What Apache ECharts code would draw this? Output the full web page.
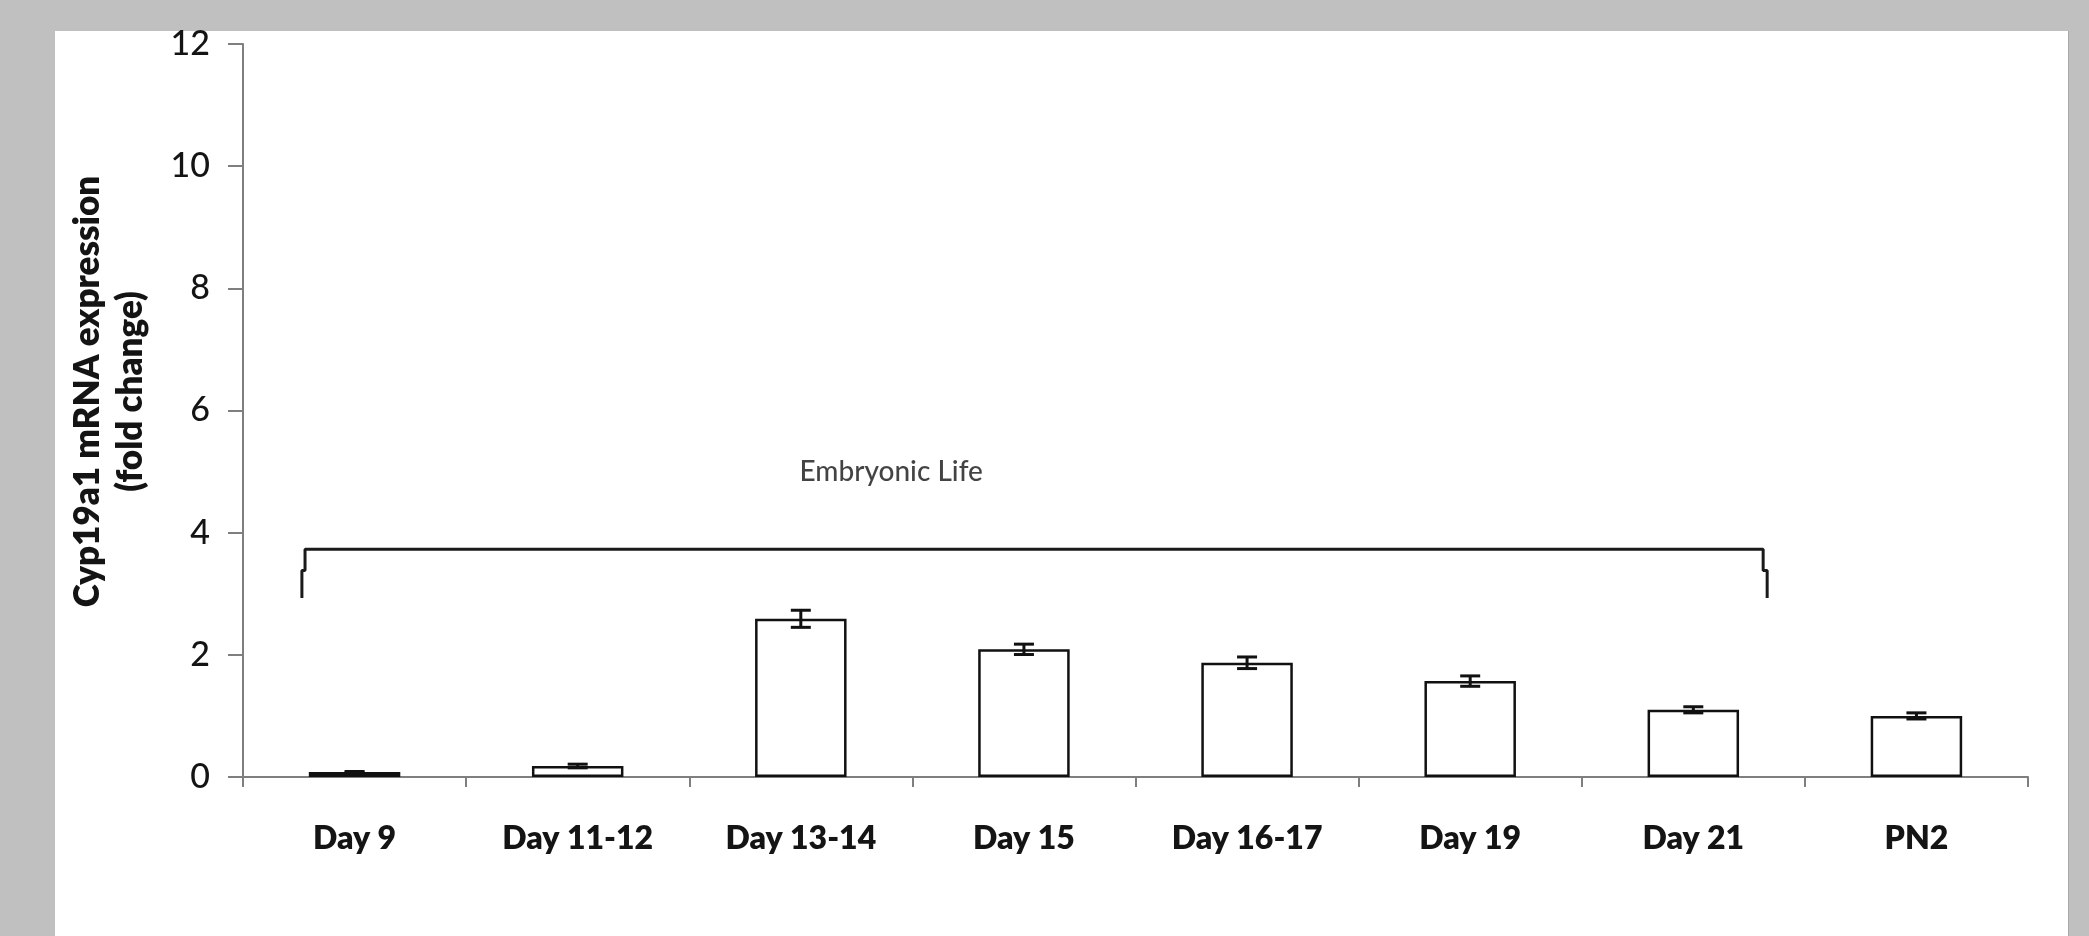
<!DOCTYPE html>
<html>
<head>
<meta charset="utf-8">
<script src="https://cdn.jsdelivr.net/npm/echarts@6/dist/echarts.min.js"></script>
<style>
  html, body { margin: 0; padding: 0; background: #c0c0c0; width: 2089px; height: 936px; overflow: hidden; }
  #panel { position: absolute; left: 55px; top: 31px; width: 2013px; height: 905px; background: #ffffff; border-right: 1px solid #a8a8a8; }
  #chart { position: absolute; left: 0; top: 0; width: 2089px; height: 936px; }
</style>
</head>
<body>
<div id="panel"></div>
<div id="chart"></div>
<script>
// Developmental stages on the x axis
const categories = ['Day 9', 'Day 11-12', 'Day 13-14', 'Day 15', 'Day 16-17', 'Day 19', 'Day 21', 'PN2'];
// Mean Cyp19a1 fold change and its error (±)
const foldChange = [0.08, 0.18, 2.59, 2.09, 1.87, 1.57, 1.10, 1.00];
const errors = [0.01, 0.03, 0.14, 0.085, 0.095, 0.085, 0.05, 0.05];
// Value axis range and step
const yMin = 0;
const yMax = 12;
const yStep = 2;
// Bracket spanning the embryonic stages (category-index units, fold-change units)
const bracketX = [-0.236, -0.236, -0.222, -0.222, 6.313, 6.313, 6.331, 6.331];
const bracketY = [2.93, 3.38, 3.38, 3.73, 3.73, 3.38, 3.38, 2.93];
// Bracket caption and its anchor
const bracketLabel = 'Embryonic Life';
const bracketLabelPos = [2.405, 4.99];

const FONT = 'Lato';
const TEXT = '#141414';
const AXIS = '#7f7f7f';

const chart = echarts.init(document.getElementById('chart'), null, { renderer: 'canvas' });

const option = {
  backgroundColor: 'transparent',
  animation: false,
  grid: { left: 243, right: 61, top: 44, bottom: 159, containLabel: false },
  xAxis: [
    {
      type: 'category',
      data: categories,
      boundaryGap: true,
      axisLine: { show: true, onZero: false, lineStyle: { color: AXIS, width: 2 } },
      axisTick: { show: true, inside: false, length: 10, alignWithLabel: false, lineStyle: { color: AXIS, width: 2 } },
      axisLabel: { show: true, interval: 0, margin: 46, fontFamily: FONT, fontWeight: 800, fontSize: 32, color: TEXT },
      splitLine: { show: false }
    },
    {
      // hidden numeric twin of the category axis for annotations
      type: 'value',
      min: -0.5,
      max: categories.length - 0.5,
      show: false,
      position: 'bottom'
    }
  ],
  yAxis: {
    type: 'value',
    min: yMin,
    max: yMax,
    interval: yStep,
    name: 'Cyp19a1 mRNA expression\n(fold change)',
    nameLocation: 'middle',
    nameRotate: 90,
    nameGap: 91,
    nameTextStyle: { fontFamily: FONT, fontWeight: 800, fontSize: 35, lineHeight: 43, color: TEXT, padding: [0, 0, 0, 38] },
    axisLine: { show: true, onZero: false, lineStyle: { color: AXIS, width: 2 } },
    axisTick: { show: true, inside: false, length: 15, lineStyle: { color: AXIS, width: 2 } },
    axisLabel: { show: true, margin: 33, fontFamily: FONT, fontWeight: 500, fontSize: 34, color: TEXT },
    splitLine: { show: false }
  },
  series: [
    {
      type: 'bar',
      xAxisIndex: 0,
      data: foldChange,
      barCategoryGap: '59%',
      itemStyle: { color: '#ffffff', borderColor: '#111111', borderWidth: 2.5 },
      z: 2
    },
    {
      type: 'custom',
      xAxisIndex: 0,
      data: categories.map((c, i) => [i, foldChange[i], errors[i]]),
      renderItem: function (params, api) {
        const i = api.value(0);
        const v = api.value(1);
        const e = api.value(2);
        const top = api.coord([i, v + e]);
        const bot = api.coord([i, v - e]);
        const half = 10;
        const style = { stroke: '#111111', lineWidth: 3, fill: null };
        return {
          type: 'group',
          children: [
            { type: 'line', shape: { x1: top[0], y1: top[1], x2: bot[0], y2: bot[1] }, style: style },
            { type: 'line', shape: { x1: top[0] - half, y1: top[1], x2: top[0] + half, y2: top[1] }, style: style },
            { type: 'line', shape: { x1: bot[0] - half, y1: bot[1], x2: bot[0] + half, y2: bot[1] }, style: style }
          ]
        };
      },
      z: 3
    },
    {
      type: 'line',
      xAxisIndex: 1,
      data: bracketX.map((x, i) => [x, bracketY[i]]),
      symbol: 'none',
      lineStyle: { color: '#1a1a1a', width: 3 },
      z: 3
    },
    {
      type: 'scatter',
      xAxisIndex: 1,
      data: [bracketLabelPos],
      symbolSize: 0,
      label: {
        show: true,
        position: 'inside',
        formatter: bracketLabel,
        fontFamily: FONT,
        fontWeight: 500,
        fontSize: 28,
        color: TEXT
      },
      z: 3
    }
  ]
};

chart.setOption(option);
</script>
</body>
</html>
